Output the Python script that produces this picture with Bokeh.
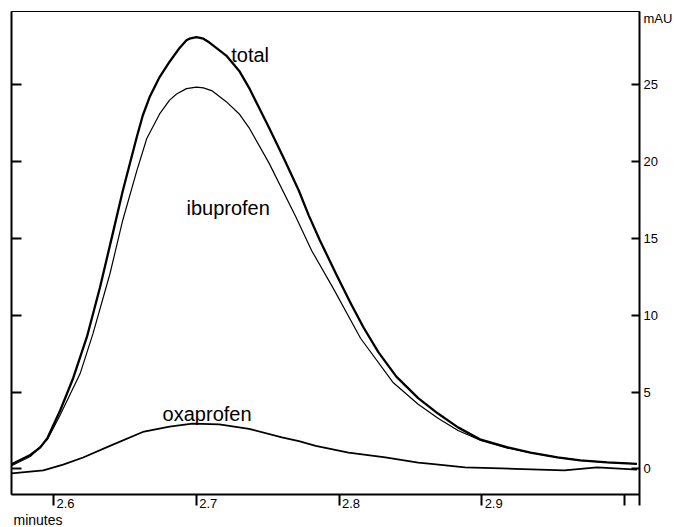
from bokeh.plotting import figure
from bokeh.models import Range1d, LinearAxis, FixedTicker, Label, Title
from bokeh.embed import file_html
from bokeh.resources import INLINE

# ---- data (minutes, mAU) ----
t_total = [2.5704, 2.5836, 2.5906, 2.5955, 2.6045, 2.6136, 2.6233, 2.6324, 2.6408, 2.6484,
           2.6582, 2.6624, 2.6672, 2.6742, 2.6812, 2.6882, 2.6930, 2.6951, 2.7000, 2.7049,
           2.7091, 2.7139, 2.7209, 2.7300, 2.7369, 2.7439, 2.7509, 2.7613, 2.7718, 2.7787,
           2.7864, 2.7983, 2.8080, 2.8171, 2.8275, 2.8401, 2.8554, 2.8693, 2.8833, 2.8993,
           2.9181, 2.9341, 2.9530, 2.9690, 2.9878, 3.0087]
v_total = [0.3, 0.9, 1.4, 2.0, 3.8, 5.9, 8.6, 11.8, 15.1, 18.1,
           21.6, 23.0, 24.2, 25.5, 26.5, 27.4, 27.9, 28.0, 28.1, 28.0,
           27.75, 27.4, 26.9, 25.9, 24.8, 23.5, 22.2, 20.2, 18.1, 16.5,
           14.9, 12.6, 10.8, 9.2, 7.6, 6.0, 4.6, 3.6, 2.7, 1.9,
           1.4, 1.05, 0.75, 0.55, 0.42, 0.33]

t_ibu = [2.5704, 2.5836, 2.5955, 2.6045, 2.6185, 2.6275, 2.6394, 2.6484, 2.6582, 2.6652,
         2.6742, 2.6812, 2.6861, 2.6930, 2.7000, 2.7049, 2.7111, 2.7209, 2.7300, 2.7369,
         2.7509, 2.7697, 2.7808, 2.7962, 2.8150, 2.8380, 2.8554, 2.8693, 2.8833, 2.8993,
         2.9181, 2.9341, 2.9530, 2.9690, 2.9878, 3.0087]
v_ibu = [0.2, 0.8, 1.9, 3.5, 6.2, 8.8, 12.7, 16.2, 19.4, 21.5,
         23.1, 24.0, 24.4, 24.75, 24.85, 24.8, 24.6, 23.9, 23.1, 22.2,
         19.9, 16.4, 14.2, 11.7, 8.5, 5.6, 4.2, 3.3, 2.5, 1.85,
         1.35, 1.05, 0.75, 0.55, 0.42, 0.33]

t_oxa = [2.5704, 2.5927, 2.6066, 2.6206, 2.6394, 2.6624, 2.6812, 2.6972, 2.7160, 2.7369,
         2.7599, 2.7718, 2.7836, 2.8066, 2.8324, 2.8554, 2.8645, 2.8882, 2.9230, 2.9578,
         2.9808, 3.0087]
v_oxa = [-0.3, -0.1, 0.28, 0.74, 1.5, 2.4, 2.75, 2.95, 2.9, 2.6,
         2.05, 1.8, 1.5, 1.06, 0.74, 0.4, 0.33, 0.1, 0.0, -0.1,
         0.1, -0.05]

x_ticks = [2.6, 2.7, 2.8, 2.9, 3.0]
x_labeled = [2.6, 2.7, 2.8, 2.9]
y_ticks = [0, 5, 10, 15, 20, 25]
y_tick_labels = ["0", "5", "10", "15", "20", "25"]
y_unit, y_unit_pos = "mAU", 29.3
x_title = "minutes"
x_start, x_end = 2.5704, 3.0105
y_start, y_end = -1.67, 29.77

FONT = "Liberation Sans"
LABEL_SHIFT = 0.0083   # tick labels sit to the right of their tick marks

p = figure(width=675, height=527,
           x_range=Range1d(x_start, x_end), y_range=Range1d(y_start, y_end),
           x_axis_location=None, y_axis_location=None,
           output_backend="svg", toolbar_location=None,
           min_border_left=11, min_border_right=32, min_border_top=11, min_border_bottom=33)
p.extra_x_ranges = {"lab": Range1d(x_start - LABEL_SHIFT, x_end - LABEL_SHIFT)}
p.grid.visible = False
p.outline_line_color = "black"
p.outline_line_width = 1
p.background_fill_color = "white"
p.border_fill_color = "white"

p.line(t_total, v_total, line_color="black", line_width=2.3, line_join="round")
p.line(t_ibu, v_ibu, line_color="black", line_width=1.2, line_join="round")
p.line(t_oxa, v_oxa, line_color="black", line_width=1.8, line_join="round")

hidden = dict(major_label_text_color=None, major_label_text_font_size="0px",
              major_label_standoff=0, minor_tick_line_color=None)

# left: inward ticks, no labels
p.add_layout(LinearAxis(ticker=FixedTicker(ticks=y_ticks), major_tick_in=10, major_tick_out=0,
                        major_tick_line_width=2, axis_line_width=2, **hidden), "left")

# right: inward ticks (first), then labels outside
p.add_layout(LinearAxis(ticker=FixedTicker(ticks=y_ticks), major_tick_in=8, major_tick_out=0,
                        major_tick_line_width=2, axis_line_width=2, **hidden), "right")
overrides = {v: s for v, s in zip(y_ticks, y_tick_labels)}
overrides[y_unit_pos] = y_unit
p.add_layout(LinearAxis(ticker=FixedTicker(ticks=y_ticks + [y_unit_pos]),
                        major_label_overrides=overrides,
                        major_tick_in=0, major_tick_out=0, major_tick_line_color=None,
                        axis_line_color=None, minor_tick_line_color=None,
                        major_label_text_font=FONT, major_label_text_font_size="13px",
                        major_label_text_color="black", major_label_standoff=4), "right")

# bottom: outward ticks, then labels to the right of each tick
p.add_layout(LinearAxis(ticker=FixedTicker(ticks=x_ticks + [x_end]), major_tick_in=0,
                        major_tick_out=11, major_tick_line_width=2, axis_line_width=2,
                        **hidden), "below")
p.add_layout(LinearAxis(x_range_name="lab", ticker=FixedTicker(ticks=x_labeled),
                        major_tick_in=0, major_tick_out=0, major_tick_line_color=None,
                        axis_line_color=None, minor_tick_line_color=None,
                        major_label_text_font=FONT, major_label_text_font_size="13px",
                        major_label_text_color="black", major_label_standoff=-7), "below")
p.add_layout(Title(text=x_title, align="left", offset=2, standoff=-2,
                   text_font=FONT, text_font_size="14px", text_font_style="normal",
                   text_color="black"), "below")

label_style = dict(text_font=FONT, text_font_size="20px", text_color="black",
                   text_baseline="alphabetic")
p.add_layout(Label(x=2.7244, y=26.97, text="total", **label_style))
p.add_layout(Label(x=2.6930, y=16.95, text="ibuprofen", **label_style))
p.add_layout(Label(x=2.6763, y=3.54, text="oxaprofen", **label_style))

open("out.html", "w").write(file_html(p, INLINE))
